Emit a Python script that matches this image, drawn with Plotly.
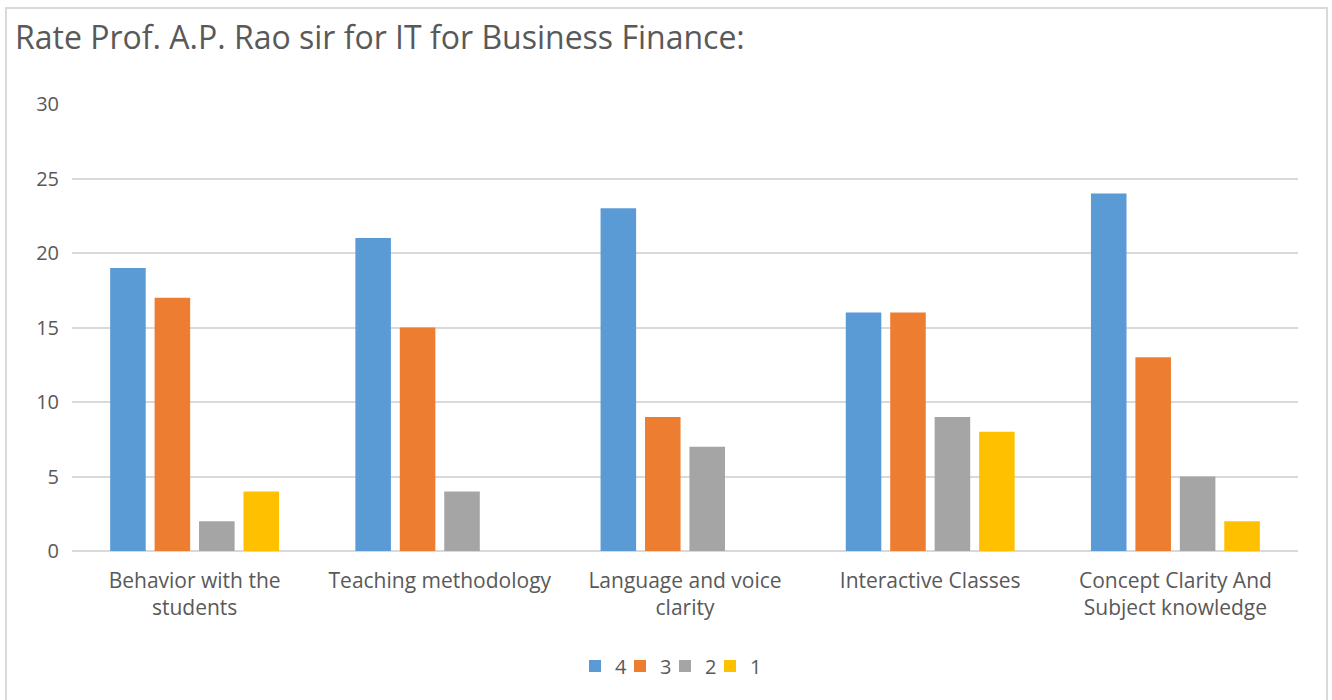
import plotly.graph_objects as go

# Data
categories = [
    "Behavior with the<br>students",
    "Teaching methodology",
    "Language and voice<br>clarity",
    "Interactive Classes",
    "Concept Clarity And<br>Subject knowledge",
]
rating_4 = [19, 21, 23, 16, 24]
rating_3 = [17, 15, 9, 16, 13]
rating_2 = [2, 4, 7, 9, 5]
rating_1 = [4, 0, 0, 8, 2]

series = [
    ("4", rating_4, "#5B9BD5"),
    ("3", rating_3, "#ED7D31"),
    ("2", rating_2, "#A5A5A5"),
    ("1", rating_1, "#FFC000"),
]

FONT = "Open Sans, Liberation Sans, sans-serif"
TEXT = "#595959"
GRID = "#D9D9D9"

# plot area in px (from the reference)
L, R, T, B = 72, 1298, 104, 551
W, H = R - L, B - T

fig = go.Figure()
legends = {}
for i, (name, vals, colour) in enumerate(series):
    key = "legend" if i == 0 else f"legend{i + 1}"
    fig.add_trace(go.Bar(
        x=categories, y=vals, name=name, legend=key, showlegend=True,
        marker={"color": colour, "line": {"width": 0}},
    ))
    # one small legend per series so the entries sit close together
    legends[key] = {
        "orientation": "h", "xref": "paper", "yref": "paper",
        "x": (575 + 45 * i - L) / W, "xanchor": "left",
        "y": (B - 666) / H, "yanchor": "middle",
        "font": {"size": 20, "color": TEXT},
        "bgcolor": "rgba(0,0,0,0)",
    }

fig.update_layout(
    width=1332, height=700,
    showlegend=True,
    paper_bgcolor="white", plot_bgcolor="white",
    margin={"l": L, "r": 1332 - R, "t": T, "b": 700 - B},
    barmode="group", bargap=0.275, bargroupgap=0.2,
    font={"family": FONT, "color": TEXT, "size": 20},
    title={
        "text": "Rate Prof. A.P. Rao sir for IT for Business Finance:",
        "x": 15 / 1332, "xanchor": "left", "xref": "container",
        "y": 1 - 38 / 700, "yanchor": "middle", "yref": "container",
        "font": {"size": 32, "color": TEXT, "family": FONT},
    },
    yaxis={
        "range": [0, 30], "dtick": 5, "showgrid": True, "gridcolor": GRID,
        "gridwidth": 1.5, "zeroline": True, "zerolinecolor": GRID,
        "zerolinewidth": 2, "showline": False, "ticks": "",
        "tickfont": {"size": 20, "color": TEXT}, "ticklabelstandoff": 12,
    },
    xaxis={
        "showgrid": False, "showline": False, "ticks": "",
        "tickfont": {"size": 21, "color": TEXT}, "ticklabelstandoff": 15,
    },
    shapes=[{
        "type": "rect", "xref": "paper", "yref": "paper",
        "x0": (6 - L) / W, "x1": (1327 - L) / W,
        "y0": (B - 705) / H, "y1": (B - 8) / H,
        "line": {"color": GRID, "width": 2}, "fillcolor": "rgba(0,0,0,0)",
        "layer": "below",
    }],
    **legends,
)

# drop the default 8px page margin so the figure sits at the window's corner
fig.write_html(
    "out.html",
    config={"displayModeBar": False},
    post_script="document.body.style.margin = '0';",
)
